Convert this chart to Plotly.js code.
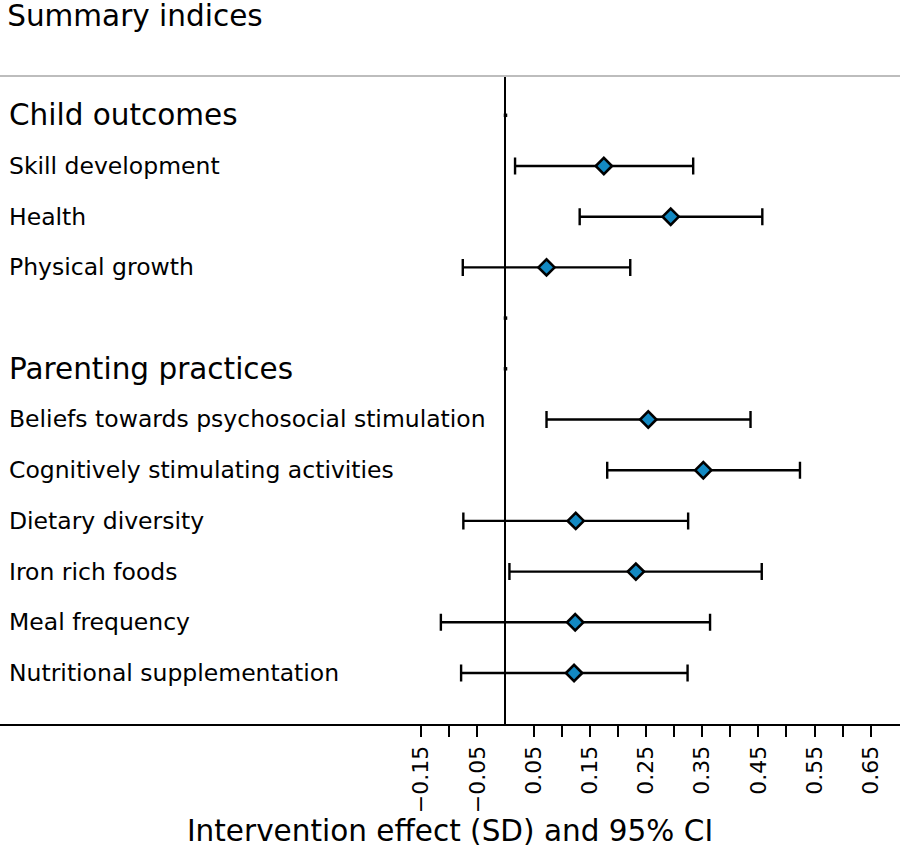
<!DOCTYPE html>
<html>
<head>
<meta charset="utf-8">
<script src="https://cdn.plot.ly/plotly-3.0.1.min.js"></script>
<style>html,body{margin:0;padding:0;background:#fff;}#chart{width:900px;height:849px;}</style>
</head>
<body>
<div id="chart"></div>
<script>
// Row labels (top to bottom); headings and a blank spacer row have no estimate
const rowLabels = [
  "Child outcomes",
  "Skill development",
  "Health",
  "Physical growth",
  "",
  "Parenting practices",
  "Beliefs towards psychosocial stimulation",
  "Cognitively stimulating activities",
  "Dietary diversity",
  "Iron rich foods",
  "Meal frequency",
  "Nutritional supplementation"
];
const isHeading = [true,false,false,false,true,true,false,false,false,false,false,false];

// Estimates (SD) and 95% CI bounds for outcome rows
const outcomeRows = [1,2,3,6,7,8,9,10,11];
const estimate = [0.175, 0.294, 0.073, 0.254, 0.352, 0.125, 0.232, 0.124, 0.122];
const ciLow    = [0.017, 0.132, -0.076, 0.073, 0.181, -0.075, 0.007, -0.115, -0.079];
const ciHigh   = [0.334, 0.457, 0.222, 0.436, 0.524, 0.325, 0.456, 0.364, 0.324];

// Heading rows carry an empty point at zero
const emptyRows = [0, 4, 5];
const emptyValues = [0, 0, 0];

// X-axis ticks
const tickValues = [-0.15,-0.10,-0.05,0.05,0.10,0.15,0.20,0.25,0.30,0.35,0.40,0.45,0.50,0.55,0.60,0.65];
const tickLabels = ["\u22120.15","","\u22120.05","0.05","","0.15","","0.25","","0.35","","0.45","","0.55","","0.65"];

const FONT = "DejaVu Sans, Arial, sans-serif";

const traces = [
  {
    type: "scatter", mode: "markers",
    x: estimate, y: outcomeRows,
    marker: {symbol: "diamond", size: 12.5, color: "#1389c2", line: {color: "#000", width: 2.6}},
    error_x: {
      type: "data", symmetric: false,
      array: estimate.map((e, i) => ciHigh[i] - e),
      arrayminus: estimate.map((e, i) => e - ciLow[i]),
      color: "#000", thickness: 2.4, width: 8.5
    },
    hoverinfo: "skip", showlegend: false, cliponaxis: false
  },
  {
    type: "scatter", mode: "markers",
    x: emptyValues, y: emptyRows,
    marker: {symbol: "square", size: 3.5, color: "#000"},
    hoverinfo: "skip", showlegend: false
  }
];

const annotations = rowLabels.map((t, i) => ({
  text: t, xref: "paper", yref: "y", x: 0, y: i,
  xanchor: "left", yanchor: "middle", xshift: 7, showarrow: false,
  font: {family: FONT, size: isHeading[i] ? 29.5 : 23.5, color: "#000"}
}));

const layout = {
  width: 900, height: 849,
  margin: {l: 0, r: 0, t: 76, b: 125, pad: 0},
  paper_bgcolor: "#fff", plot_bgcolor: "#fff",
  font: {family: FONT, color: "#000"},
  title: {
    text: "Summary indices", x: 0.008, xanchor: "left",
    xref: "container", yref: "container", y: 1 - 16/849, yanchor: "middle",
    font: {family: FONT, size: 29.5, color: "#000"}
  },
  xaxis: {
    range: [-0.8995, 0.702], showgrid: false,
    zeroline: true, zerolinecolor: "#000", zerolinewidth: 2,
    showline: true, linecolor: "#000", linewidth: 2,
    tickmode: "array", tickvals: tickValues, ticktext: tickLabels,
    ticks: "outside", ticklen: 11, tickwidth: 2, tickcolor: "#000",
    tickangle: -90, tickfont: {family: FONT, size: 22, color: "#000"},
    title: {text: "Intervention effect (SD) and 95% CI", font: {family: FONT, size: 29.5, color: "#000"}, standoff: 8},
    fixedrange: true
  },
  yaxis: {
    range: [12.006, -0.775], showgrid: false, zeroline: false,
    showline: false, showticklabels: false, ticks: "", fixedrange: true
  },
  shapes: [
    {type: "line", xref: "paper", yref: "paper", x0: 0, x1: 1, y0: 1, y1: 1,
     line: {color: "#bdbdbd", width: 2}}
  ],
  annotations: annotations,
  showlegend: false
};

Plotly.newPlot("chart", traces, layout, {displayModeBar: false, staticPlot: true});
</script>
</body>
</html>
